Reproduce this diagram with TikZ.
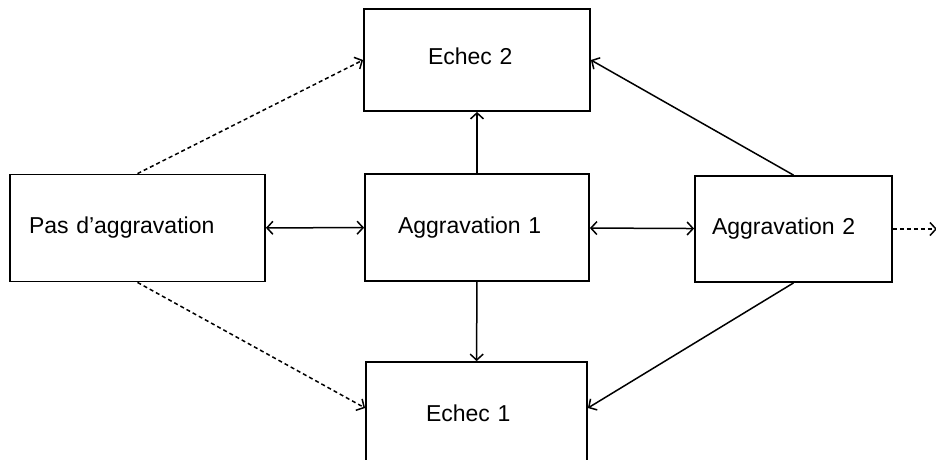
\documentclass[tikz,border=0pt]{standalone}
\usepackage{fontspec}
\setmainfont{Liberation Sans}
\usepackage{tikz}
\usetikzlibrary{arrows.meta}
\tikzstyle{state} = [rectangle, draw=black, line width=1.8pt, inner ysep=0pt, align=left, font=\fontsize{23}{27}\selectfont]
\tikzstyle{arrow} = [line width=1.5pt,->,>={Straight Barb[length=6pt,width=13pt]}]
\tikzstyle{dasharrow} = [arrow, dash pattern=on 4pt off 3pt]

\begin{document}
\begin{tikzpicture}[x=1pt,y=-1pt]
\useasboundingbox (0,0) rectangle (936,459);
% Boxes
\node (pas) [state, minimum width=255pt, minimum height=107pt, text width=217pt, inner xsep=19pt] at (137.5,228) {Pas d'aggravation};
\node (agg1) [state, minimum width=224pt, minimum height=107pt, text width=158pt, inner xsep=33pt] at (477,227.5) {Aggravation 1};
\node (agg2) [state, minimum width=197pt, minimum height=106pt, text width=163pt, inner xsep=17pt] at (793.5,229) {Aggravation 2};
\node (ech2) [state, minimum width=226pt, minimum height=102pt, text width=98pt, inner xsep=64pt, text depth=8pt] at (477,60) {Echec 2};
\node (ech1) [state, minimum width=221pt, minimum height=102pt, text width=101pt, inner xsep=60pt] at (476.5,413) {Echec 1};
\coordinate (out) at (937,229);

% Arrows
\draw[arrow,<->] (pas) -- (agg1);
\draw[arrow,<->] (agg1) -- (agg2);
\draw[arrow] (agg1) -- (ech2);
\draw[arrow] (agg1) -- (ech1);
\draw[arrow] (agg2.north) -- (ech2.east);
\draw[arrow] (agg2.south) -- ([yshift=5pt]ech1.east);
\draw[dasharrow] (pas.north) -- (ech2.west);
\draw[dasharrow] (pas.south) -- ([yshift=5pt]ech1.west);
\draw[dasharrow] (agg2.east) -- (out);
\end{tikzpicture}
\end{document}
